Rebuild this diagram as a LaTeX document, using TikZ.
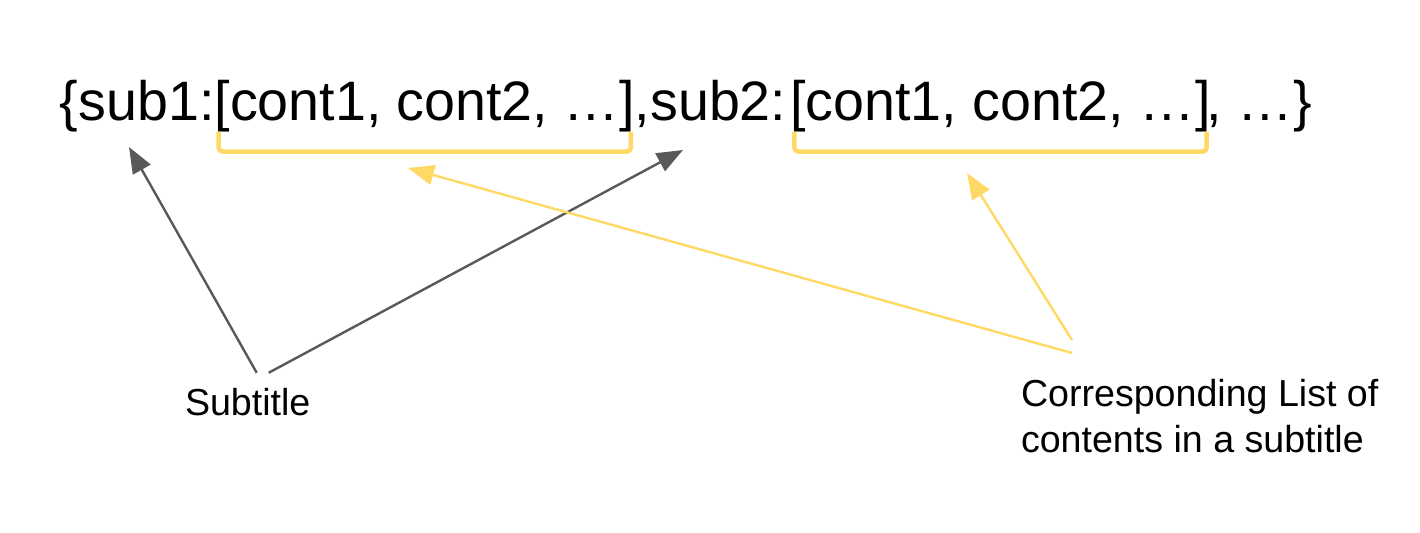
\documentclass[tikz,border=0pt]{standalone}
\usepackage{fontspec}
\setmainfont{Liberation Sans}
\usepackage{xcolor}
\usetikzlibrary{arrows.meta,calc,positioning}
\definecolor{pointgray}{HTML}{595959}
\definecolor{listyellow}{HTML}{FFD966}

\begin{document}
\begin{tikzpicture}[x=0.5pt, y=-0.5pt]
	\tikzstyle{every node} = [inner sep=0pt, outer sep=0pt]
	\tikzstyle{dictpart} = [font=\fontsize{27.8}{33}\selectfont]
	\tikzstyle{caption} = [font=\fontsize{18.8}{23}\selectfont, align=left]
	\tikzstyle{brace line} = [draw=listyellow, line width=2.25pt, rounded corners=2pt]
	\tikzstyle{subarrow} = [draw=pointgray, line width=1.2pt, -{Triangle[length=13pt, width=10pt]}]
	\tikzstyle{listarrow} = [draw=listyellow, line width=1.2pt, -{Triangle[length=13pt, width=10pt]}]
\useasboundingbox (0,0) rectangle (1420,532);

\node[dictpart, anchor=base west] (open) at (60,120) {\{sub1:};
\node[dictpart, base right=0pt of open] (list1) {[cont1, cont2, …]};
\node[dictpart, base right=0pt of list1] (mid) {,sub2:};
\node[dictpart, base right=2pt of mid] (list2) {[cont1, cont2, …]};
\node[dictpart, base right=-2pt of list2] (tail) {, …\}};

	\node[caption, anchor=base west] (sub) at (185,415) {Subtitle};
	\node[caption, anchor=north west] (corr) at (1021,379) {Corresponding List of\\contents in a subtitle};

\coordinate (tipsub1) at (129,147);
\coordinate (tipsub2) at (683,150);
\coordinate (tiplist1) at (408,168);
\coordinate (tiplist2) at (967,173);

	\path[brace line] ([xshift=2pt]list1.south west) -- ++(0,20) -| ([xshift=-2pt]list1.south east);
	\path[brace line] ([xshift=2pt]list2.south west) -- ++(0,20) -| ([xshift=-2pt]list2.south east);
	\path[subarrow] ($(sub.north)+(9,-15)$) -- (tipsub1);
	\path[subarrow] ($(sub.north)+(21,-15)$) -- (tipsub2);
	\path[listarrow] ($(corr.north west)+(51,-26)$) -- (tiplist1);
	\path[listarrow] ($(corr.north west)+(51,-39)$) -- (tiplist2);
\end{tikzpicture}
\end{document}
